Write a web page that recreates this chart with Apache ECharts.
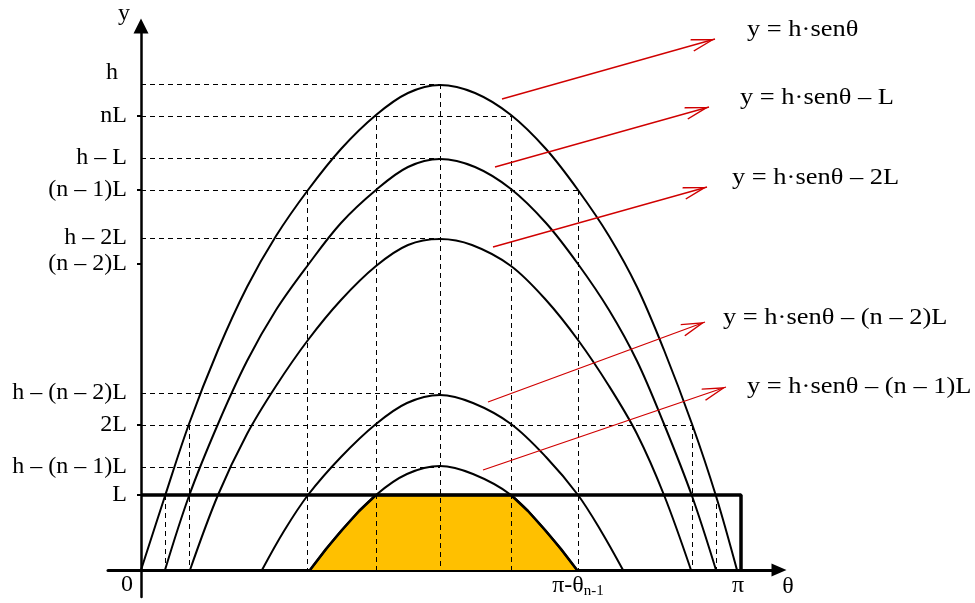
<!DOCTYPE html>
<html>
<head>
<meta charset="utf-8">
<script src="https://cdn.jsdelivr.net/npm/echarts@6/dist/echarts.min.js"></script>
<style>
html, body { margin: 0; padding: 0; background: #fff; }
#chart { width: 975px; height: 603px; }
</style>
</head>
<body>
<div id="chart"></div>
<script>
// points: x = θ along the axis, y = height above θ-axis (1 unit = 1 px)
const curveH  = [[0,0],[24,74],[48,146],[77,220],[106,283],[135,334],[167,380],[200,421],[235,455],[267,477],[299,485],
                 [334,477],[370,455],[405,421],[437,380],[468,334],[496,283],[523,220],[551,146],[575,74],[596,0]];
const curveH1 = [[24,0],[48,74],[77,146],[106,209],[135,260],[167,305],[200,347],[235,380],[267,403],[299,411],
                 [334,403],[370,381],[405,347],[437,306],[468,260],[496,209],[523,146],[551,74],[575,0]];
const curveH2 = [[49,0],[77,75],[106,136],[135,184],[167,230],[200,270],[235,304],[267,325],[299,331],
                 [331,325],[370,304],[405,270],[437,230],[468,184],[496,136],[523,75],[550,0]];
const curveHn2 = [[121,0],[143,39],[167,75],[200,113],[235,146],[266,167],[299,175],
                  [332,167],[370,146],[405,113],[437,75],[460,39],[482,0]];
const curveHn1 = [[169,0],[201,40],[235,75],[266,96],[299,104],[332,96],[370,75],[404,40],[436,0]];
const shaded   = [[169,0],[185,21],[201,40],[218,59],[235,75],[370,75],[387,59],[404,40],[420,21],[436,0]];
const levelL   = [[0,75],[600,75],[600,0]];

const yTickValues = [486, 454, 412, 380, 332, 306, 177, 145, 103, 75];
const yTickLabels = ['h', 'nL', 'h – L', '(n – 1)L', 'h – 2L', '(n – 2)L', 'h – (n – 2)L', '2L', 'h – (n – 1)L', 'L'];
const yMarkedTicks = [454, 380, 306, 145, 75];
const xTickValues = [0, 437, 597];

// dashed guides: horizontal [y, x end], vertical [x, y top]
const hGuides = [[486,299],[454,370],[412,299],[380,437],[332,299],[177,299],[145,551],[103,299]];
const vGuides = [[24,75],[48,145],[166,380],[235,454],[299,486],[370,454],[437,380],[551,145],[575,75]];

const arrowFrom = [[361,471],[354,403],[352,323],[347,168],[342,100]];
const arrowTo   = [[574,531],[568,463],[566,383],[564,248],[585,183]];
const equations = ['y = h·senθ', 'y = h·senθ – L', 'y = h·senθ – 2L', 'y = h·senθ – (n – 2)L', 'y = h·senθ – (n – 1)L'];
const equationPos = [[747,30],[740,98],[732,178],[723,318],[747,387]];

const FONT = 'Liberation Serif';
const chart = echarts.init(document.getElementById('chart'));

function curve(data) {
  return {
    type: 'line', data: data, smooth: 0.35, symbol: 'none', z: 3, silent: true,
    lineStyle: { color: '#000', width: 2 }
  };
}

const guideLines = [];
hGuides.forEach(g => guideLines.push([{ coord: [0, g[0]] }, { coord: [g[1], g[0]] }]));
vGuides.forEach(g => guideLines.push([{ coord: [g[0], g[1]] }, { coord: [g[0], 0] }]));

const arrowLines = arrowFrom.map((p, i) => [{ coord: p }, { coord: arrowTo[i] }]);

const option = {
  animation: false,
  backgroundColor: '#fff',
  grid: { left: 108, right: 196, top: 26, bottom: 6, outerBoundsMode: 'none' },
  xAxis: {
    type: 'value', min: -33, max: 638,
    axisLine: { onZero: true, lineStyle: { color: '#000', width: 3 }, symbol: ['none', 'triangle'], symbolSize: [13, 15] },
    axisTick: { show: false },
    splitLine: { show: false },
    axisLabel: {
      customValues: xTickValues, margin: -24, color: '#000', fontFamily: FONT, fontSize: 24,
      formatter: v => v === 0 ? '{z|0}' : (v === 437 ? '{a|π-θ}{s|n-1}' : '{a|π}'),
      rich: {
        z: { fontFamily: FONT, fontSize: 24, color: '#000', padding: [0, 28, 0, 0] },
        a: { fontFamily: FONT, fontSize: 24, color: '#000', lineHeight: 26 },
        s: { fontFamily: FONT, fontSize: 15, color: '#000', verticalAlign: 'bottom', lineHeight: 15 }
      }
    },
    name: 'θ', nameLocation: 'end', nameGap: 9,
    nameTextStyle: { fontFamily: FONT, fontSize: 24, color: '#000', align: 'center', verticalAlign: 'top', padding: [5, 0, 0, 0] }
  },
  yAxis: {
    type: 'value', min: -27, max: 544,
    axisLine: { onZero: true, lineStyle: { color: '#000', width: 2.5 }, symbol: ['none', 'triangle'], symbolSize: [15, 15] },
    axisTick: { customValues: yMarkedTicks, length: 4, lineStyle: { color: '#000', width: 2 } },
    splitLine: { show: false },
    axisLabel: {
      customValues: yTickValues, margin: -19, color: '#000', fontFamily: FONT, fontSize: 24,
      formatter: v => {
        const i = yTickValues.indexOf(v);
        return i === 0 ? '{top|h}' : yTickLabels[i];
      },
      rich: { top: { fontFamily: FONT, fontSize: 24, color: '#000', padding: [0, 9, 22, 0] } }
    },
    name: 'y', nameLocation: 'end', nameGap: 12,
    nameTextStyle: { fontFamily: FONT, fontSize: 24, color: '#000', align: 'right', verticalAlign: 'middle', padding: [0, 11, 0, 0] }
  },
  series: [
    {
      // shaded part under L, its curved edge drawn a bit heavier
      type: 'line', data: shaded, symbol: 'none', z: 1, silent: true,
      lineStyle: { color: '#000', width: 2.6 },
      areaStyle: { color: '#FFC000', opacity: 1 }
    },
    {
      type: 'line', data: [], z: 2, silent: true,
      markLine: {
        silent: true, symbol: ['none', 'none'], label: { show: false },
        lineStyle: { color: '#000', width: 1, type: [5, 4] },
        data: guideLines
      }
    },
    curve(curveH), curve(curveH1), curve(curveH2), curve(curveHn2), curve(curveHn1),
    {
      type: 'line', data: levelL, symbol: 'none', z: 4, silent: true,
      lineStyle: { color: '#000', width: 3.5 }
    },
    {
      type: 'line', data: [], z: 5, silent: true,
      markLine: {
        silent: true,
        symbol: ['none', 'path://M13,0L26,46L23.6,47.2L13,10L2.4,47.2L0,46Z'],
        symbolSize: [13, 24],
        symbolOffset: [0, [0, 12]],
        label: { show: false },
        lineStyle: { color: '#d00000', width: 1.3, type: 'solid' },
        data: arrowLines
      }
    }
  ],
  graphic: equations.map((t, i) => ({
    type: 'text', x: equationPos[i][0], y: equationPos[i][1], scaleX: 1.15, silent: true,
    style: { text: t, fill: '#000', font: '23px "' + FONT + '"', verticalAlign: 'middle' }
  }))
};

chart.setOption(option);
window.addEventListener('resize', () => chart.resize());
</script>
</body>
</html>
